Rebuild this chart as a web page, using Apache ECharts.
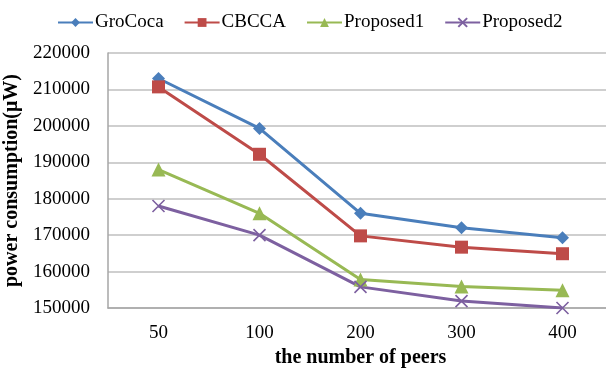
<!DOCTYPE html>
<html>
<head>
<meta charset="utf-8">
<script src="https://cdn.jsdelivr.net/npm/echarts@6/dist/echarts.min.js"></script>
<style>html,body{margin:0;padding:0;background:#fff;}#c{width:606px;height:369px;}</style>
</head>
<body>
<div id="c"></div>
<script>
var categories = ['50', '100', '200', '300', '400'];
var groCoca = [213000, 199300, 176000, 172000, 169300];
var cbcca = [210700, 192200, 169800, 166700, 164900];
var proposed1 = [188000, 176000, 157800, 155900, 154900];
var proposed2 = [178000, 170000, 155800, 151900, 150000];
var seriesNames = ['GroCoca', 'CBCCA', 'Proposed1', 'Proposed2'];
var yTicks = {min: 150000, max: 220000, step: 10000};

var font = '"Liberation Serif", "Times New Roman", serif';
var colors = ['#4A7EBB', '#BE4B48', '#98B954', '#7D60A0'];
var symbols = ['diamond', 'rect', 'triangle', 'path://M0,0L10,10M10,0L0,10'];
var sizes = [13, 13, 14, 12];
var datas = [groCoca, cbcca, proposed1, proposed2];

var chart = echarts.init(document.getElementById('c'), null, {renderer: 'canvas'});
var series = seriesNames.map(function (n, i) {
  var s = {
    name: n, type: 'line', data: datas[i],
    symbol: symbols[i], symbolSize: sizes[i],
    lineStyle: {color: colors[i], width: 3},
    itemStyle: {color: colors[i]},
    animation: false
  };
  if (i === 3) {
    s.itemStyle = {color: 'rgba(0,0,0,0)', borderColor: colors[i], borderWidth: 1.6};
  }
  return s;
});

chart.setOption({
  backgroundColor: '#fff',
  animation: false,
  legend: {
    top: 8, left: 52, itemWidth: 35, itemHeight: 11, itemGap: 20,
    textStyle: {fontFamily: font, fontSize: 19, color: '#000', padding: [0, 0, 0, -3]},
    data: seriesNames
  },
  grid: {left: 108, top: 53, width: 505, height: 255, containLabel: false, outerBoundsMode: 'none'},
  xAxis: {
    type: 'category', data: categories, boundaryGap: true,
    name: 'the number of peers', nameLocation: 'middle', nameGap: 40,
    nameTextStyle: {fontFamily: font, fontSize: 20, fontWeight: 'bold', color: '#000'},
    axisLine: {lineStyle: {color: '#A6A6A6', width: 1.5}},
    axisTick: {show: false},
    axisLabel: {fontFamily: font, fontSize: 19, color: '#000', margin: 16}
  },
  yAxis: {
    type: 'value', min: yTicks.min, max: yTicks.max, interval: yTicks.step,
    name: 'power consumption(μW)', nameLocation: 'middle', nameGap: 83,
    nameTextStyle: {fontFamily: font, fontSize: 20, fontWeight: 'bold', color: '#000'},
    axisLine: {show: true, lineStyle: {color: '#A6A6A6', width: 1.5}},
    axisTick: {show: false},
    splitLine: {lineStyle: {color: '#BFBFBF', width: 1.5}},
    axisLabel: {fontFamily: font, fontSize: 19, color: '#000', margin: 18,
      formatter: function (v) { return String(v); }}
  },
  series: series
});
</script>
</body>
</html>
